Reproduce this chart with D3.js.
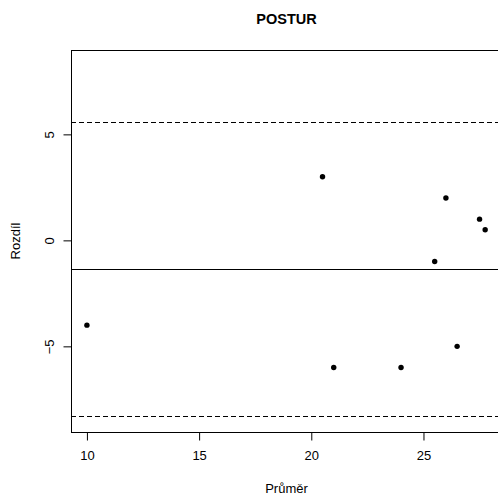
<!doctype html>
<html lang="cs">
<head>
<meta charset="utf-8">
<title>POSTUR</title>
<script src="https://d3js.org/d3.v7.min.js"></script>
<style>
  body { margin: 0; background: #fff; }
  text { font-family: "Liberation Sans", Arial, sans-serif; fill: #000; }
</style>
</head>
<body>
<script>
// prumer (x) a rozdil (y) mereni
var prumer  = [10, 20.5, 26, 27.5, 27.75, 25.5, 21, 24, 26.5];
var rozdil  = [-4, 3, 2, 1, 0.5, -1, -6, -6, -5];
var xTicks  = [10, 15, 20, 25];
var yTicks  = [-5, 0, 5];
var meanDiff = -1.35;
var limits   = [5.59, -8.29];

const width = 498, height = 498;
const plot = { left: 71, top: 50, right: 502, bottom: 432 };

const svg = d3.select("body").append("svg")
    .attr("width", width)
    .attr("height", height);

const x = d3.scaleLinear().domain([9.29, 28.5]).range([plot.left, plot.right]);
const y = d3.scaleLinear().domain([-9.04, 8.98]).range([plot.bottom, plot.top]);

// title
svg.append("text")
    .attr("x", (plot.left + plot.right) / 2)
    .attr("y", 24)
    .attr("text-anchor", "middle")
    .style("font-weight", "bold")
    .style("font-size", "14.5px")
    .text("POSTUR");

// box
svg.append("rect")
    .attr("x", plot.left + 0.5)
    .attr("y", plot.top + 0.5)
    .attr("width", plot.right - plot.left)
    .attr("height", plot.bottom - plot.top)
    .attr("fill", "none")
    .attr("stroke", "#000");

// axes
const xAxis = svg.append("g")
    .attr("transform", "translate(0," + (plot.bottom + 0.5) + ")")
    .call(d3.axisBottom(x).tickValues(xTicks).tickSize(8).tickPadding(10).tickFormat(d3.format("d")));
xAxis.select(".domain").remove();
xAxis.selectAll("text").style("font-size", "13px").attr("font-family", null);

const yAxis = svg.append("g")
    .attr("transform", "translate(" + (plot.left + 0.5) + ",0)")
    .call(d3.axisLeft(y).tickValues(yTicks).tickSize(8).tickFormat(d3.format("d")));
yAxis.select(".domain").remove();
yAxis.selectAll("text")
    .style("font-size", "13px")
    .attr("font-family", null)
    .attr("text-anchor", "middle")
    .attr("x", null)
    .attr("dy", null)
    .attr("transform", "translate(-19,0) rotate(-90)")
    .attr("y", 0)
    .attr("dy", "0.35em");
yAxis.selectAll("text").attr("transform", "translate(-22,0) rotate(-90)").attr("dy", "0.35em");

// axis labels
svg.append("text")
    .attr("x", (plot.left + plot.right) / 2)
    .attr("y", 493)
    .attr("text-anchor", "middle")
    .style("font-size", "13px")
    .text("Průměr");

svg.append("text")
    .attr("transform", "translate(20," + ((plot.top + plot.bottom) / 2) + ") rotate(-90)")
    .attr("text-anchor", "middle")
    .style("font-size", "13px")
    .text("Rozdíl");

// mean and limits of agreement
const lineG = svg.append("g");
lineG.append("line")
    .attr("x1", plot.left).attr("x2", plot.right)
    .attr("y1", Math.round(y(meanDiff)) + 0.5).attr("y2", Math.round(y(meanDiff)) + 0.5)
    .attr("stroke", "#000");
lineG.selectAll(".lim")
    .data(limits)
    .enter().append("line")
    .attr("class", "lim")
    .attr("x1", plot.left).attr("x2", plot.right)
    .attr("y1", d => Math.round(y(d)) + 0.5).attr("y2", d => Math.round(y(d)) + 0.5)
    .attr("stroke", "#000")
    .attr("stroke-dasharray", "5,3");

// points
svg.selectAll(".pt")
    .data(prumer.map((v, i) => [v, rozdil[i]]))
    .enter().append("circle")
    .attr("class", "pt")
    .attr("cx", d => x(d[0]))
    .attr("cy", d => y(d[1]))
    .attr("r", 2.7)
    .attr("fill", "#000");
</script>
</body>
</html>
